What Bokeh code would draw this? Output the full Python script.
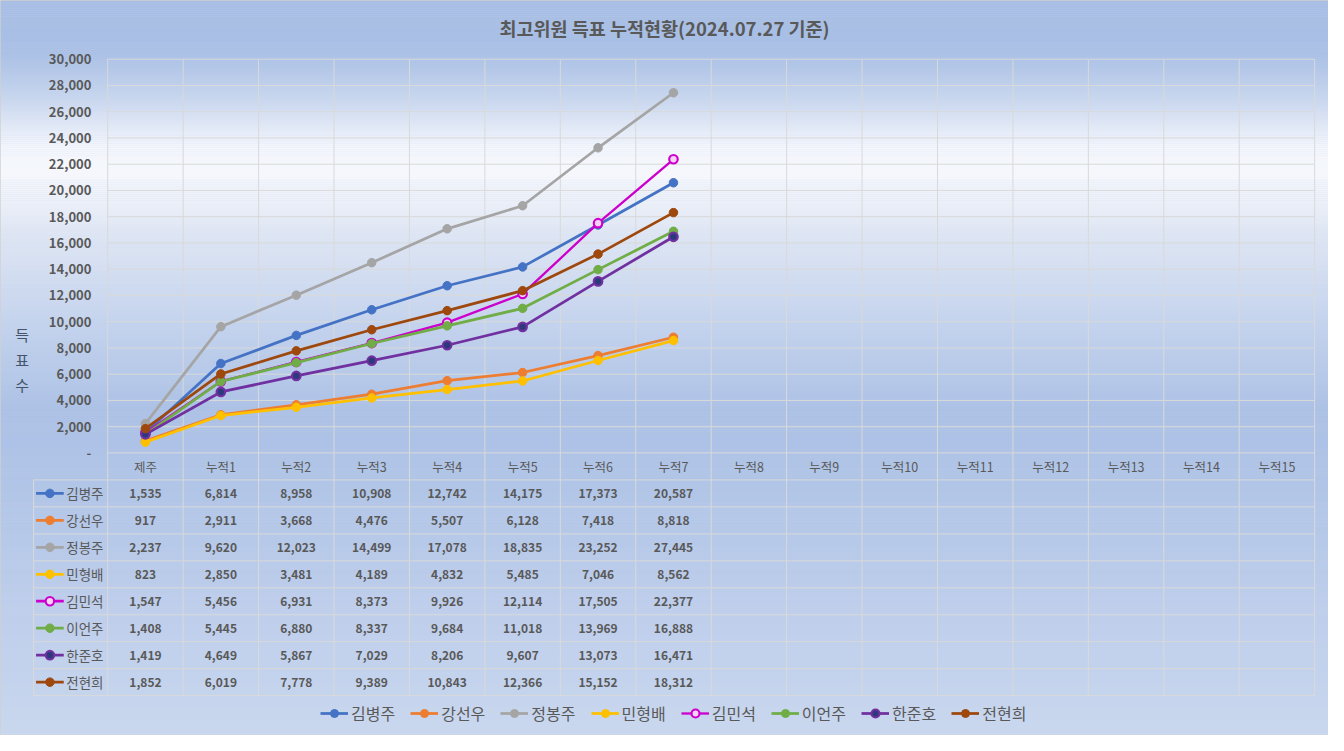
from bokeh.plotting import figure
from bokeh.models import Range1d, Legend, LegendItem
from bokeh.core.properties import value
from bokeh.embed import file_html
from bokeh.resources import INLINE

# ---------------- data ----------------
title_text = "최고위원 득표 누적현황(2024.07.27 기준)"
y_axis_title = "득\n표\n수"
categories = ["제주", "누적1", "누적2", "누적3", "누적4", "누적5", "누적6", "누적7",
              "누적8", "누적9", "누적10", "누적11", "누적12", "누적13", "누적14", "누적15"]
names = ["김병주", "강선우", "정봉주", "민형배", "김민석", "이언주", "한준호", "전현희"]
kim_bj = [1535, 6814, 8958, 10908, 12742, 14175, 17373, 20587]
kang_sw = [917, 2911, 3668, 4476, 5507, 6128, 7418, 8818]
jeong_bj = [2237, 9620, 12023, 14499, 17078, 18835, 23252, 27445]
min_hb = [823, 2850, 3481, 4189, 4832, 5485, 7046, 8562]
kim_ms = [1547, 5456, 6931, 8373, 9926, 12114, 17505, 22377]
lee_ej = [1408, 5445, 6880, 8337, 9684, 11018, 13969, 16888]
han_jh = [1419, 4649, 5867, 7029, 8206, 9607, 13073, 16471]
jeon_hh = [1852, 6019, 7778, 9389, 10843, 12366, 15152, 18312]
series_values = [kim_bj, kang_sw, jeong_bj, min_hb, kim_ms, lee_ej, han_jh, jeon_hh]
y_ticks = [0, 2000, 4000, 6000, 8000, 10000, 12000, 14000, 16000,
           18000, 20000, 22000, 24000, 26000, 28000, 30000]
y_tick_labels = ["-", "2,000", "4,000", "6,000", "8,000", "10,000", "12,000", "14,000",
                 "16,000", "18,000", "20,000", "22,000", "24,000", "26,000", "28,000", "30,000"]

# ---------------- styles / layout ----------------
colors = ["#4472C4", "#ED7D31", "#A5A5A5", "#FFC000", "#CC00CC", "#70AD47", "#7030A0", "#9E480E"]
marker_fill = ["#4472C4", "#ED7D31", "#A5A5A5", "#FFC000", "#F6D2F6", "#70AD47", "#2B3A7A", "#9E480E"]
marker_lw = [1, 1, 1, 1, 2.2, 1, 2.2, 1]
line_widths = [2.75, 2.75, 2.75, 2.75, 2.3, 2.75, 2.75, 2.75]
FONT = "Noto Sans CJK KR"
TXT = "#595959"
GRID = "#D9D9D9"

W, H = 1328, 735          # figure size
RW, RH = 1344, 751        # layout coordinate space (reference canvas)
plot_left, plot_right = 108.5, 1330.0
plot_top, plot_bottom = 60.0, 462.3
ncols = len(categories)
col_w = (plot_right - plot_left) / ncols
ymax = 30000
px_per_unit = (plot_bottom - plot_top) / ymax
table_left = 33.5
header_top = plot_bottom
row_h = 27.55
header_mid = header_top + row_h / 2
rows_top = header_top + row_h
table_bottom = rows_top + row_h * len(names)

x_range = Range1d(-0.5 - plot_left / col_w, -0.5 + (RW - plot_left) / col_w)
y_range = Range1d(-(RH - plot_bottom) / px_per_unit, ymax + plot_top / px_per_unit)

p = figure(width=W, height=H, x_range=x_range, y_range=y_range,
           output_backend="svg", toolbar_location=None, min_border=0,
           x_axis_location=None, y_axis_location=None)
p.extra_x_ranges = {"px": Range1d(0, RW)}
p.extra_y_ranges = {"px": Range1d(RH, 0)}
p.xgrid.visible = False
p.ygrid.visible = False
p.outline_line_color = "#D0D0D0"
p.background_fill_color = "#C5D4EE"
p.border_fill_color = "#C5D4EE"

# background gradient (styling)
stops = [(0, (168, 190, 228)), (55, (170, 192, 229)), (100, (200, 214, 238)),
         (150, (243, 246, 252)), (178, (245, 247, 252)), (235, (224, 231, 244)),
         (330, (196, 211, 237)), (420, (172, 193, 229)), (470, (174, 195, 230)),
         (620, (190, 206, 235)), (751, (201, 215, 238))]


def grad(y):
    for (y0, c0), (y1, c1) in zip(stops[:-1], stops[1:]):
        if y0 <= y <= y1:
            t = (y - y0) / (y1 - y0)
            c = [round(a + (b - a) * t) for a, b in zip(c0, c1)]
            return "#%02x%02x%02x" % tuple(c)
    return "#%02x%02x%02x" % stops[-1][1]


tops, bots, cols = [], [], []
yy = 0
while yy < RH:
    tops.append(yy)
    bots.append(yy + 2.3)
    cols.append(grad(yy + 1))
    yy += 2
p.quad(left=0, right=RW, top=tops, bottom=bots, fill_color=cols, line_color=None,
       x_range_name="px", y_range_name="px")

# horizontal grid lines in chart
p.segment(x0=-0.5, x1=ncols - 0.5, y0=y_ticks, y1=y_ticks, line_color=GRID, line_width=1)
# vertical lines (chart + table)
vx = [plot_left + k * col_w for k in range(ncols + 1)]
p.segment(x0=vx, x1=vx, y0=plot_top, y1=table_bottom, line_color=GRID, line_width=1,
          x_range_name="px", y_range_name="px")
# table horizontal lines
hy = [rows_top + r * row_h for r in range(len(names) + 1)]
p.segment(x0=table_left, x1=plot_right, y0=hy, y1=hy, line_color=GRID, line_width=1,
          x_range_name="px", y_range_name="px")
p.segment(x0=[table_left], x1=[table_left], y0=[rows_top], y1=[table_bottom], line_color=GRID,
          line_width=1, x_range_name="px", y_range_name="px")

# series
legend_items = []
xs = list(range(len(kim_bj)))
for i, (nm, vals) in enumerate(zip(names, series_values)):
    ln = p.line(xs, vals, line_color=colors[i], line_width=line_widths[i])
    sc = p.scatter(xs, vals, size=8.5, fill_color=marker_fill[i], line_color=colors[i],
                   line_width=marker_lw[i])
    legend_items.append(LegendItem(label=nm, renderers=[ln, sc]))

# table legend keys
row_mid = [rows_top + (r + 0.5) * row_h for r in range(len(names))]
p.segment(x0=36, x1=64, y0=row_mid, y1=row_mid, line_color=colors, line_width=2.75,
          x_range_name="px", y_range_name="px")
p.scatter(x=[50] * len(names), y=row_mid, size=8.5, fill_color=marker_fill, line_color=colors,
          line_width=marker_lw, x_range_name="px", y_range_name="px")
p.text(x=[66.5] * len(names), y=row_mid, text=names, text_font=value(FONT), text_font_size="13.5px",
       text_color=TXT, text_align="left", text_baseline="middle",
       x_range_name="px", y_range_name="px")

# table header
p.text(x=list(range(ncols)), y=[header_mid] * ncols, text=categories, text_font=value(FONT),
       text_font_size="12.5px", text_color=TXT, text_align="center", text_baseline="middle",
       y_range_name="px")

# table values
for r, vals in enumerate(series_values):
    p.text(x=xs, y=[row_mid[r]] * len(vals), text=[f"{v:,}" for v in vals],
           text_font=value(FONT), text_font_size="12px", text_font_style="bold",
           text_color=TXT, text_align="center", text_baseline="middle", y_range_name="px")

# y tick labels
p.text(x=[92] * len(y_ticks), y=y_ticks, text=y_tick_labels, text_font=value(FONT),
       text_font_size="13px", text_font_style="bold", text_color=TXT, text_align="right",
       text_baseline="middle", x_range_name="px")

# y axis title
p.text(x=[22], y=[367], text=[y_axis_title], text_font=value(FONT), text_font_size="15px",
       text_color="#44546A", text_align="center", text_baseline="middle", text_line_height=1.2,
       x_range_name="px", y_range_name="px")

# title
p.text(x=[672], y=[28], text=[title_text], text_font=value(FONT), text_font_size="18.5px",
       text_font_style="bold", text_color=TXT, text_align="center", text_baseline="middle",
       x_range_name="px", y_range_name="px")

legend = Legend(items=legend_items, orientation="horizontal", location=(320, 10),
                padding=0, margin=0, spacing=15, glyph_width=28, glyph_height=20,
                label_standoff=3, label_text_font=FONT, label_text_font_size="16px",
                label_text_color=TXT, background_fill_alpha=0, border_line_alpha=0)
p.add_layout(legend)

open("out.html", "w").write(file_html(p, INLINE))
